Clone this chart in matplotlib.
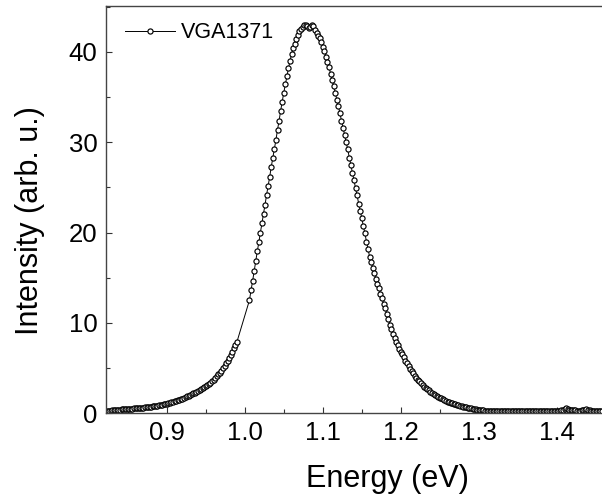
import numpy as np
import matplotlib.pyplot as plt
from matplotlib.ticker import MultipleLocator

plt.rcParams['font.family'] = ['Liberation Sans', 'DejaVu Sans']

## DATA (PL spectrum, intensity)
label = 'VGA1371'

# low energy part, 0.822 ... 0.990 eV, step 0.002 eV
e_low_start, e_step = 0.822, 0.002
i_low = [0.20, 0.22, 0.23, 0.26, 0.28, 0.29, 0.32, 0.33, 0.36, 0.38,
         0.39, 0.41, 0.42, 0.44, 0.45, 0.47, 0.48, 0.49, 0.51, 0.52,
         0.54, 0.55, 0.57, 0.58, 0.60, 0.62, 0.64, 0.66, 0.68, 0.70,
         0.73, 0.76, 0.79, 0.82, 0.85, 0.89, 0.93, 0.97, 1.01, 1.05,
         1.10, 1.15, 1.20, 1.25, 1.30, 1.36, 1.42, 1.48, 1.54, 1.60,
         1.68, 1.76, 1.84, 1.92, 2.00, 2.09, 2.18, 2.27, 2.36, 2.45,
         2.55, 2.65, 2.75, 2.85, 2.95, 3.09, 3.23, 3.38, 3.54, 3.70,
         3.88, 4.07, 4.27, 4.48, 4.70, 4.95, 5.22, 5.50, 5.80, 6.10,
         6.45, 6.80, 7.15, 7.52, 7.90]

# high energy part, 1.006 ... 1.458 eV, step 0.002 eV
e_high_start = 1.006
i_high = [12.5, 13.6, 14.6, 15.7, 16.8, 17.9, 18.9, 20.0, 21.0, 22.1,
          23.1, 24.2, 25.2, 26.2, 27.3, 28.3, 29.3, 30.3, 31.4, 32.4,
          33.5, 34.5, 35.5, 36.4, 37.3, 38.2, 39.0, 39.8, 40.4, 40.9,
          41.4, 41.9, 42.3, 42.6, 42.8, 43.0, 43.0, 42.9, 42.7, 42.8,
          43.0, 42.9, 42.4, 42.1, 41.8, 41.5, 41.1, 40.6, 40.1, 39.5,
          38.9, 38.3, 37.6, 36.9, 36.2, 35.5, 34.7, 34.0, 33.2, 32.4,
          31.6, 30.8, 30.0, 29.2, 28.3, 27.5, 26.6, 25.8, 24.9, 24.1,
          23.2, 22.4, 21.6, 20.7, 19.9, 19.0, 18.2, 17.3, 16.7, 16.1,
          15.5, 14.9, 14.3, 13.8, 13.2, 12.7, 12.1, 11.6, 11.0, 10.4,
          9.8, 9.3, 8.7, 8.3, 7.9, 7.5, 7.1, 6.8, 6.5, 6.2,
          5.8, 5.5, 5.2, 4.9, 4.6, 4.4, 4.1, 3.9, 3.7, 3.5,
          3.3, 3.1, 2.9, 2.77, 2.64, 2.51, 2.38, 2.25, 2.14, 2.03,
          1.92, 1.81, 1.70, 1.61, 1.52, 1.43, 1.34, 1.25, 1.19, 1.13,
          1.07, 1.01, 0.95, 0.90, 0.85, 0.80, 0.75, 0.70, 0.66, 0.62,
          0.58, 0.54, 0.50, 0.47, 0.44, 0.41, 0.38, 0.35, 0.33, 0.31,
          0.29, 0.27, 0.25,
          # 1.312 ... 1.400
          0.24, 0.23, 0.22, 0.23, 0.21, 0.20, 0.22, 0.21, 0.19, 0.20,
          0.21, 0.22, 0.20, 0.19, 0.18, 0.20, 0.21, 0.19, 0.18, 0.20,
          0.22, 0.21, 0.19, 0.18, 0.17, 0.19, 0.20, 0.18, 0.17, 0.19,
          0.20, 0.21, 0.19, 0.18, 0.20, 0.22, 0.21, 0.19, 0.20, 0.21,
          0.19, 0.18, 0.20, 0.21, 0.20,
          # 1.402 ... 1.458
          0.22, 0.25, 0.30, 0.38, 0.45, 0.50, 0.45, 0.36, 0.30, 0.32,
          0.36, 0.30, 0.25, 0.22, 0.24, 0.28, 0.33, 0.38, 0.40, 0.36,
          0.30, 0.24, 0.20, 0.18, 0.20, 0.23, 0.20, 0.18, 0.20]

e_low = e_low_start + e_step * np.arange(len(i_low))
e_high = e_high_start + e_step * np.arange(len(i_high))
energy = np.concatenate([e_low, e_high])
intensity = np.concatenate([i_low, i_high])

fig = plt.figure(figsize=(6.02, 4.97), dpi=100)
# right edge of the frame lies outside the picture, as in the original
ax = fig.add_axes([0.176, 0.169, 0.8266, 0.819])

ax.plot(energy, intensity, '-o', color='black', lw=0.7,
        ms=3.7, mfc='white', mec='black', mew=0.85, label=label)

ax.set_xlim(0.822, 1.46)
ax.set_ylim(0, 45.1)
ax.xaxis.set_major_locator(MultipleLocator(0.1))
ax.xaxis.set_minor_locator(MultipleLocator(0.05))
ax.yaxis.set_major_locator(MultipleLocator(10))
ax.yaxis.set_minor_locator(MultipleLocator(5))
ax.xaxis.set_major_formatter(plt.FormatStrFormatter('%.1f'))

ax.tick_params(which='both', direction='in', labelsize=18.5, width=0.8,
               color='#333333', pad=6)
ax.tick_params(which='major', length=4)
ax.tick_params(which='minor', length=3)
for s in ax.spines.values():
    s.set_linewidth(1.0)
    s.set_color('#444444')

ax.set_xlabel('Energy (eV)', fontsize=22)
ax.set_ylabel('Intensity (arb. u.)', fontsize=22)
ax.xaxis.set_label_coords(0.565, -0.125)
ax.yaxis.set_label_coords(-0.123, 0.474)

ax.legend(loc='upper left', bbox_to_anchor=(0.0, 1.007), frameon=False,
          fontsize=15.5, handlelength=2.3, handletextpad=0.3)

fig.savefig('out.png', dpi=100)
